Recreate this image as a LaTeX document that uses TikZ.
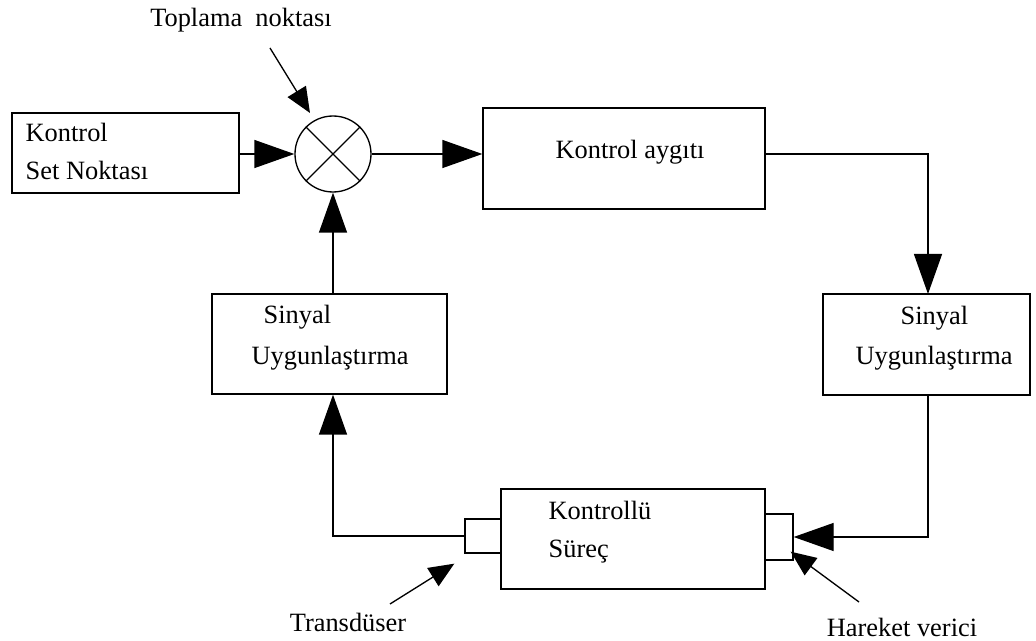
\documentclass[tikz,border=0pt]{standalone}
\usepackage{fontspec}
\setmainfont{Liberation Serif}
\usetikzlibrary{arrows.meta,positioning,calc}

\begin{document}
\begin{tikzpicture}[x=0.75pt,y=-0.75pt,line width=1pt,
  font=\fontsize{19.8}{23}\selectfont,
  blok/.style={draw,rectangle,inner sep=0pt},
  yazi/.style={inner sep=0pt,anchor=west},
  akis/.style={-{Triangle[length=30pt,width=21pt]}},
  isaret/.style={-{Triangle[length=19pt,width=16pt]}}]
\useasboundingbox (0,0) rectangle (1036,641);
% bloklar
\node[blok,minimum width=227*0.75pt,minimum height=80*0.75pt](setpt)at(125.5,153){};
\node[draw,circle,minimum size=76*0.75pt,inner sep=0pt](sum)at(333,154){};
\draw (sum.north east)--(sum.south west) (sum.north west)--(sum.south east);
\node[blok,minimum width=282*0.75pt,minimum height=101*0.75pt](ctrl)at(624,158.5){};
\node[blok,minimum width=207*0.75pt,minimum height=101*0.75pt](sigR)at(926.5,344.5){};
\node[blok,minimum width=235*0.75pt,minimum height=100*0.75pt](sigL)at(329.5,344){};
\node[blok,minimum width=264*0.75pt,minimum height=100*0.75pt](proc)at(633,539){};
\node[blok,minimum width=36*0.75pt,minimum height=34*0.75pt](trans)at(483,536){};
\node[blok,minimum width=28*0.75pt,minimum height=46*0.75pt](act)at(779,537){};
% yazilar
\node[yazi](t1)at(25,132){Kontrol};
\node[yazi](t2)at(25,170){Set Noktası};
\node(t3)at(630,152){Kontrol aygıtı};
\node[yazi](t4)at(263,317){Sinyal};
\node[yazi](t5)at(251,358){Uygunlaştırma};
\node[yazi](t6)at(900,318){Sinyal};
\node[yazi](t7)at(855,358){Uygunlaştırma};
\node[yazi](t8)at(548,510){Kontrollü};
\node[yazi](t9)at(548,552){Süreç};
\node(lsum)at(241,20){Toplama~ noktası};
\node(ltrans)at(348,622){Transdüser};
\node(lact)at(902,627){Hareket verici};
% baglantilar
\draw[akis](setpt.east|-sum)--(sum.west);
\draw[akis](sum.east)--(sum.east-|ctrl.west);
\coordinate(k1)at(928,154);
\coordinate(k2)at(928,294);
\draw[akis](ctrl.east|-k1)--(k1)--(k2);
\draw[akis](sigR.south-|k1)|-(act.east);
\draw[akis](trans.west)-|(sigL.south-|sum);
\draw[akis](sigL.north-|sum)--(sum.south);
\coordinate(p1)at(270,48);
\coordinate(p2)at(310,113);
\draw[isaret](p1)--(p2);
\coordinate(p3)at(390,604);
\draw[isaret](p3)--($(trans.south west)+(-10,10)$);
\coordinate(p4)at(859,602);
\draw[isaret](p4)--($(act.south east)+(-3,-9)$);
\end{tikzpicture}
\end{document}
